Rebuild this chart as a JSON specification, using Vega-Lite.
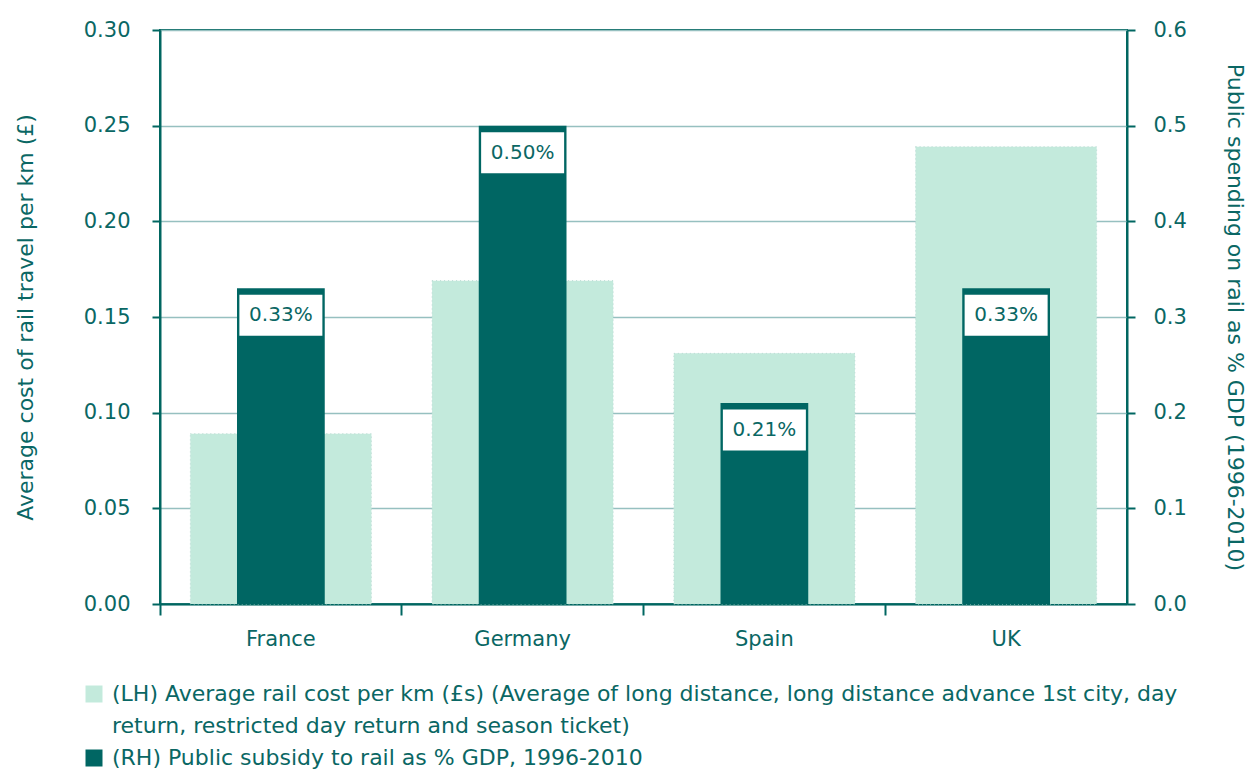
{
  "$schema": "https://vega.github.io/schema/vega-lite/v6.json",
  "width": 967,
  "height": 574,
  "autosize": {"type": "none"},
  "padding": {"left": 160, "top": 30, "right": 124, "bottom": 165},
  "background": "white",
  "config": {
    "font": "DejaVu Sans",
    "view": {"stroke": "#006661", "strokeWidth": 2},
    "axis": {
      "labelFont": "DejaVu Sans",
      "titleFont": "DejaVu Sans",
      "labelColor": "#0a6764",
      "titleColor": "#0a6764",
      "labelFontSize": 21,
      "titleFontSize": 22,
      "titleFontWeight": "normal",
      "domainColor": "#006661",
      "domainWidth": 2,
      "tickColor": "#006661",
      "tickWidth": 2
    }
  },
  "data": {
    "values": [
      {"country": "France", "cost": 0.089, "subsidy": 0.33, "label": "0.33%"},
      {"country": "Germany", "cost": 0.169, "subsidy": 0.50, "label": "0.50%"},
      {"country": "Spain", "cost": 0.131, "subsidy": 0.21, "label": "0.21%"},
      {"country": "UK", "cost": 0.239, "subsidy": 0.33, "label": "0.33%"}
    ]
  },
  "encoding": {
    "x": {
      "field": "country",
      "type": "nominal",
      "sort": null,
      "scale": {"paddingInner": 0, "paddingOuter": 0},
      "axis": {
        "title": null,
        "labelAngle": 0,
        "bandPosition": 0,
        "tickSize": 11,
        "labelPadding": 13,
        "domain": true,
        "grid": false
      }
    }
  },
  "layer": [
    {
      "mark": {"type": "bar", "width": {"band": 0.749}, "stroke": "#b9d9d3", "strokeWidth": 1, "strokeDash": [1, 3]},
      "encoding": {
        "y": {
          "field": "cost",
          "type": "quantitative",
          "scale": {"domain": [0, 0.3], "nice": false},
          "axis": {
            "title": "Average cost of rail travel per km (£)",
            "orient": "left",
            "values": [0, 0.05, 0.1, 0.15, 0.2, 0.25, 0.3],
            "format": ".2f",
            "grid": true,
            "gridColor": "#96c0c0",
            "gridWidth": 1.5,
            "tickSize": 8,
            "labelPadding": 22,
            "titlePadding": 46
          }
        },
        "color": {
          "datum": "(LH) Average rail cost per km (£s) (Average of long distance, long distance advance 1st city, day",
          "type": "nominal",
          "scale": {
            "domain": [
              "(LH) Average rail cost per km (£s) (Average of long distance, long distance advance 1st city, day",
              "return, restricted day return and season ticket)",
              "(RH) Public subsidy  to rail as % GDP, 1996-2010"
            ],
            "range": ["#c3eadc", "transparent", "#006663"]
          },
          "legend": {
            "title": null,
            "orient": "none",
            "legendX": -77,
            "legendY": 653,
            "direction": "vertical",
            "columns": 1,
            "padding": 0,
            "symbolType": "square",
            "symbolSize": 289,
            "symbolStrokeWidth": 0,
            "labelFont": "DejaVu Sans",
            "labelFontSize": 22,
            "labelColor": "#0a6764",
            "labelLimit": 1200,
            "labelOffset": 7,
            "rowPadding": 10
          }
        }
      }
    },
    {
      "layer": [
        {
          "mark": {"type": "bar", "width": {"band": 0.363}},
          "encoding": {
            "y": {
              "field": "subsidy",
              "type": "quantitative",
              "scale": {"domain": [0, 0.6], "nice": false},
              "axis": {
                "title": "Public spending on rail as % GDP (1996-2010)",
                "orient": "right",
                "values": [0, 0.1, 0.2, 0.3, 0.4, 0.5, 0.6],
                "format": ".1f",
                "grid": false,
                "tickSize": 8,
                "labelPadding": 18,
                "titlePadding": 36
              }
            },
            "color": {
              "datum": "(RH) Public subsidy  to rail as % GDP, 1996-2010",
              "type": "nominal"
            }
          }
        },
        {
          "mark": {"type": "point", "shape": "M-1,-0.494H1V0.494H-1Z", "filled": true, "color": "white", "opacity": 1, "size": 6889, "yOffset": 27},
          "encoding": {
            "y": {"field": "subsidy", "type": "quantitative"}
          }
        },
        {
          "mark": {"type": "text", "font": "DejaVu Sans", "fontSize": 20, "color": "#0a6764", "yOffset": 27, "baseline": "middle", "align": "center"},
          "encoding": {
            "y": {"field": "subsidy", "type": "quantitative"},
            "text": {"field": "label"}
          }
        }
      ]
    }
  ],
  "resolve": {"scale": {"y": "independent"}}
}
